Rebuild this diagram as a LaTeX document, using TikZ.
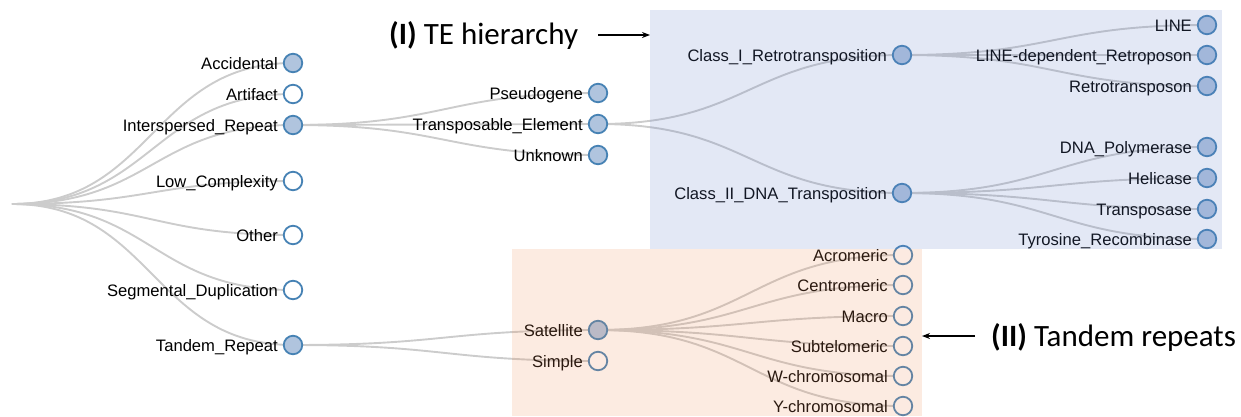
\documentclass[tikz,border=0pt]{standalone}
\usepackage{fontspec}
\setmainfont{Liberation Sans}
\newfontfamily\calib{Carlito}
\usetikzlibrary{arrows.meta,calc}
\pgfdeclarelayer{background}
\pgfdeclarelayer{foreground}
\pgfsetlayers{background,main,foreground}
\definecolor{stb}{HTML}{4682B4}
\definecolor{lsb}{HTML}{B0C4DE}
\definecolor{edgec}{HTML}{CCCCCC}
\definecolor{tintblue}{RGB}{100,128,200}
\definecolor{tintorange}{RGB}{239,144,89}
\tikzset{
  leaf/.style={circle, draw=stb, line width=1.8pt, fill=white, minimum size=18.5pt, inner sep=0pt},
  full/.style={leaf, fill=lsb},
  lab/.style={anchor=base east, inner sep=0pt, font=\fontsize{16.6}{18}\selectfont},
  edge/.style={draw=edgec, line width=1.9pt},
  note/.style={anchor=base west, inner sep=0pt, font=\calib\fontsize{31}{34}\selectfont},
  pointer/.style={line width=1.4pt, -{Stealth[length=8pt,width=6pt]}}
}
\newcommand\tn[5]{\node[#5] (#1) at (#2,#3) {};
  \node[lab] at ([xshift=-15pt,yshift=-6pt]#1.center) {#4};}
\newcommand\lnk[2]{\draw[edge] let \p1=(#1.center), \p2=(#2.center) in
  (\p1) .. controls ({(\x1+\x2)/2},\y1) and ({(\x1+\x2)/2},\y2) .. (\p2);}
\begin{document}
\begin{tikzpicture}[x=1pt,y=-1pt]
\useasboundingbox (0,0) rectangle (1241,416);
\coordinate (root) at (12,204);
% level 1
\tn{acc}{293}{63}{Accidental}{full}
\tn{art}{293}{94}{Artifact}{leaf}
\tn{ir}{293}{125}{Interspersed\_Repeat}{full}
\tn{lc}{293}{181}{Low\_Complexity}{leaf}
\tn{oth}{293}{235}{Other}{leaf}
\tn{sd}{293}{290}{Segmental\_Duplication}{leaf}
\tn{tr}{293}{345}{Tandem\_Repeat}{full}
% level 2
\tn{pg}{598}{93}{Pseudogene}{full}
\tn{te}{598}{124}{Transposable\_Element}{full}
\tn{unk}{598}{155}{Unknown}{full}
\tn{sat}{598}{330}{Satellite}{full}
\tn{simp}{598}{361}{Simple}{leaf}
% level 3
\tn{c1}{902}{55}{Class\_I\_Retrotransposition}{full}
\tn{c2}{902}{193}{Class\_II\_DNA\_Transposition}{full}
\tn{acro}{903}{255}{Acromeric}{leaf}
\tn{centro}{903}{285}{Centromeric}{leaf}
\tn{macro}{903}{316}{Macro}{leaf}
\tn{subt}{903}{346}{Subtelomeric}{leaf}
\tn{wchr}{903}{376}{W-chromosomal}{leaf}
\tn{ychr}{903}{406}{Y-chromosomal}{leaf}
% level 4
\tn{line}{1207}{25}{LINE}{full}
\tn{ldr}{1207}{55}{LINE-dependent\_Retroposon}{full}
\tn{rt}{1207}{86}{Retrotransposon}{full}
\tn{dnap}{1207}{147}{DNA\_Polymerase}{full}
\tn{heli}{1207}{178}{Helicase}{full}
\tn{tpase}{1207}{209}{Transposase}{full}
\tn{tyr}{1207}{239}{Tyrosine\_Recombinase}{full}
\begin{pgfonlayer}{background}
\foreach \c in {acc,art,ir,lc,oth,sd,tr} {\lnk{root}{\c}}
\foreach \c in {pg,te,unk} {\lnk{ir}{\c}}
\foreach \c in {sat,simp} {\lnk{tr}{\c}}
\foreach \c in {c1,c2} {\lnk{te}{\c}}
\foreach \c in {line,ldr,rt} {\lnk{c1}{\c}}
\foreach \c in {dnap,heli,tpase,tyr} {\lnk{c2}{\c}}
\foreach \c in {acro,centro,macro,subt,wchr,ychr} {\lnk{sat}{\c}}
\end{pgfonlayer}
\begin{pgfonlayer}{foreground}
\fill[tintblue, fill opacity=0.18] (650,10) rectangle (1222,249);
\fill[tintorange, fill opacity=0.18] (512,249) rectangle (922,416);
\node[note] (n1) at (389,44) {\textbf{(I)} TE hierarchy};
\coordinate (a1) at (598,35);
\coordinate (b1) at (650,35);
\draw[pointer] (a1) -- (b1);
\node[note] (n2) at (991,346) {\textbf{(II)} Tandem repeats};
\coordinate (a2) at (975,336);
\coordinate (b2) at (922,336);
\draw[pointer] (a2) -- (b2);
\end{pgfonlayer}
\end{tikzpicture}
\end{document}
